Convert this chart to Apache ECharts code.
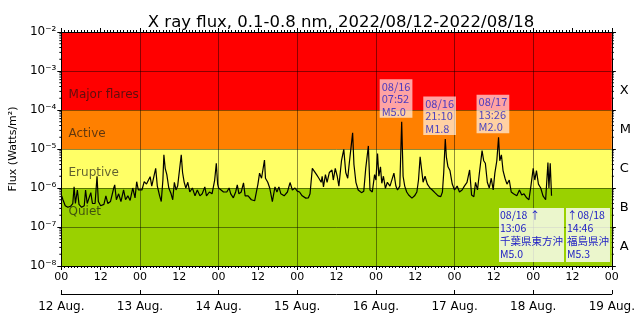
<!DOCTYPE html>
<html>
<head>
<meta charset="utf-8">
<script src="https://cdn.jsdelivr.net/npm/echarts@6.0.0/dist/echarts.min.js"></script>
<style>
  html, body { margin: 0; padding: 0; background: #fff; }
  #chart { width: 638px; height: 332px; }
</style>
</head>
<body>
<div id="chart"></div>
<script>
// GOES X-ray flux (0.1-0.8 nm), hours since 2022-08-12 00:00 UT
const hours = [
  0, 0.5, 1.2, 2.0, 2.8, 3.5, 3.9, 4.3, 4.9, 5.4, 6.2, 7.0, 7.4, 7.9, 8.5, 9.0, 9.5, 10.3, 10.9, 11.3,
  12.0, 13.0, 13.6, 14.2, 15.0, 16.0, 16.3, 16.8, 17.5, 18.2, 19.0, 19.6, 20.3, 21.0, 21.8, 22.5, 23.0, 23.5,
  24.0, 24.6, 25.3, 26.0, 26.5, 27.1, 27.6, 28.2, 28.8, 29.3, 30.0, 30.5, 31.0, 31.3, 31.7, 32.2, 32.8, 33.5,
  34.0, 34.5, 35.0, 35.5, 36.1, 36.6, 37.0, 37.5, 38.0, 38.6, 39.2, 40.0, 40.8, 41.5, 42.3, 43.0, 43.8, 44.3,
  45.2, 46.0, 46.8, 47.3, 47.7,
  48.0, 48.6, 49.5, 50.5, 51.2, 51.7, 52.5, 53.2, 53.7, 54.2, 54.9, 55.6, 56.1, 57.0, 58.0, 59.0, 59.6, 60.0,
  60.5, 61.1, 62.0, 62.3, 63.0, 63.6, 64.4, 65.2, 65.8, 66.4, 67.0, 68.0, 69.0, 69.8, 70.5, 71.3,
  72.0, 72.7, 73.5, 74.6, 75.4, 75.9, 76.6, 77.2, 77.9, 78.6, 79.3, 79.6, 80.0, 80.6, 81.1, 81.8, 82.6, 83.0,
  83.6, 84.2, 84.7, 85.5, 86.2, 86.8, 87.4, 87.9, 88.9, 89.3, 89.9, 90.6, 91.6, 92.3, 92.9, 93.7, 94.2, 94.9, 95.6,
  96.0, 96.5, 96.9, 97.4, 97.8, 98.3, 98.9, 99.5, 100.3, 101.5, 102.1, 102.6, 103.3, 103.87, 104.3, 104.8,
  105.4, 106.0, 107.0, 107.8, 108.5, 109.0, 109.5, 109.9, 110.4, 111.0, 111.7, 112.5, 113.2, 114.0, 115.0,
  115.8, 116.3, 116.7, 117.17, 117.5, 118.0, 118.6, 119.3,
  120.0, 120.8, 121.5, 122.3, 123.0, 123.8, 124.6, 125.2, 125.9, 126.4, 127.0, 127.6, 128.4, 128.9, 129.4,
  130.0, 130.6, 131.2, 131.8, 132.3, 132.9, 133.43, 133.8, 134.3, 134.8, 135.4, 136.0, 136.7, 137.3, 138.0,
  139.0, 139.8, 140.5, 141.2, 142.0, 142.7, 143.3, 144.0, 144.5, 145.0, 145.6, 146.3, 147.0, 147.8, 148.5,
  148.8, 149.2, 149.6
];
const flux = [
  6.6e-7, 5.0e-7, 3.5e-7, 3.2e-7, 3.4e-7, 4.0e-7, 1.07e-6, 4.0e-7, 8.9e-7, 3.8e-7, 3.2e-7, 3.5e-7, 8.9e-7, 4.0e-7, 4.5e-7, 7.6e-7, 4.0e-7, 4.0e-7, 2.0e-6, 4.5e-7,
  3.5e-7, 3.8e-7, 6.3e-7, 4.0e-7, 4.5e-7, 1.0e-6, 1.2e-6, 5.0e-7, 7.1e-7, 4.5e-7, 8.9e-7, 5.0e-7, 6.3e-7, 4.8e-7, 1.0e-6, 5.6e-7, 1.45e-6, 8.9e-7,
  1.0e-6, 8.9e-7, 1.45e-6, 1.26e-6, 1.12e-6, 1.95e-6, 1.12e-6, 1.26e-6, 3.2e-6, 1.12e-6, 6.3e-7, 4.5e-7, 1.6e-6, 7.1e-6, 3.2e-6, 2.2e-6, 1.0e-6, 7.1e-7,
  5.0e-7, 1.4e-6, 8.9e-7, 1.12e-6, 1.26e-6, 7.1e-6, 2.5e-6, 1.4e-6, 1.0e-6, 1.4e-6, 7.9e-7, 1.0e-6, 6.3e-7, 8.9e-7, 6.3e-7, 7.1e-7, 1.07e-6, 6.3e-7,
  7.9e-7, 7.1e-7, 1.6e-6, 4.3e-6, 1.26e-6,
  1.0e-6, 8.9e-7, 7.9e-7, 7.9e-7, 1.0e-6, 7.1e-7, 5.6e-7, 7.9e-7, 1.2e-6, 7.1e-7, 7.9e-7, 1.35e-6, 6.3e-7, 6.3e-7, 5.0e-7, 4.7e-7, 5.0e-7, 1.26e-6,
  2.4e-6, 1.78e-6, 5.2e-6, 1.78e-6, 1.4e-6, 1.0e-6, 4.5e-7, 1.07e-6, 7.9e-7, 1.07e-6, 7.1e-7, 6.3e-7, 7.9e-7, 1.38e-6, 8.9e-7, 1.0e-6,
  8.3e-7, 7.9e-7, 6.3e-7, 5.5e-7, 5.6e-7, 7.1e-7, 3.2e-6, 3.5e-6, 2.2e-6, 1.78e-6, 1.4e-6, 2.0e-6, 1.07e-6, 2.2e-6, 1.4e-6, 2.5e-6, 2.9e-6, 1.6e-6,
  3.2e-6, 2.0e-6, 1.12e-6, 5.0e-6, 9.8e-6, 2.5e-6, 1.78e-6, 4.5e-6, 2.6e-5, 4.0e-6, 1.4e-6, 8.9e-7, 7.6e-7, 8.3e-7, 3.2e-6, 1.2e-5, 8.9e-7, 7.9e-7, 2.2e-6,
  1.6e-6, 7.6e-6, 2.0e-6, 3.5e-6, 1.32e-6, 2.0e-6, 9.8e-7, 1.4e-6, 1.12e-6, 2.4e-6, 1.12e-6, 8.9e-7, 1.12e-6, 5.0e-5, 2.0e-6, 1.12e-6,
  7.9e-7, 6.6e-7, 5.5e-7, 6.3e-7, 7.9e-7, 1.6e-6, 6.3e-6, 3.2e-6, 1.4e-6, 2.0e-6, 1.26e-6, 1.0e-6, 8.9e-7, 7.6e-7, 6.3e-7,
  6.0e-7, 7.9e-7, 2.5e-6, 1.8e-5, 6.3e-6, 3.5e-6, 2.8e-6, 1.26e-6,
  8.9e-7, 1.12e-6, 7.9e-7, 8.9e-7, 1.12e-6, 1.4e-6, 2.9e-6, 6.6e-7, 6.0e-7, 1.4e-6, 8.9e-7, 2.5e-6, 9.1e-6, 5.0e-6, 4.3e-6,
  1.4e-6, 1.0e-6, 1.78e-6, 8.9e-7, 2.4e-6, 5.0e-6, 2.0e-5, 5.0e-6, 7.1e-6, 2.8e-6, 1.78e-6, 1.26e-6, 1.6e-6, 7.9e-7, 7.1e-7,
  6.3e-7, 8.9e-7, 6.6e-7, 7.1e-7, 5.6e-7, 5.0e-7, 1.12e-6, 3.2e-6, 1.6e-6, 2.8e-6, 1.26e-6, 1.0e-6, 6.3e-7, 5.0e-7, 4.5e-6,
  1.0e-6, 4.3e-6, 6.3e-7
];

// Annotated flares (time, peak flux)
const flareHours = [103.87, 117.17, 133.43];
const flarePeaks = [5.0e-5, 1.8e-5, 2.0e-5];
const flareStamps = ['08/16\n07:52', '08/16\n21:10', '08/17\n13:26'];

// Earthquake notes
const quakeStamps = ['08/18 \u2191\n13:06', '\u219108/18\n14:46'];
const quakePlaces = ['千葉県東方沖', '福島県沖'];
const quakeMags = ['M5.0', 'M5.3'];

// Activity bands
const bandNames = ['Major flares', 'Active', 'Eruptive', 'Quiet'];
const bandLower = [1e-4, 1e-5, 1e-6, 1e-8];
const bandUpper = [1e-2, 1e-4, 1e-5, 1e-6];
const bandLabelAt = [2.5e-4, 2.5e-5, 2.5e-6, 2.5e-7];

// Axis texts
const yTickLabels = ['10⁻⁸', '10⁻⁷', '10⁻⁶', '10⁻⁵', '10⁻⁴', '10⁻³', '10⁻²'];
const classLetters = ['A', 'B', 'C', 'M', 'X'];
const hourLabels = ['00', '12'];
const dayLabels = ['12 Aug.', '13 Aug.', '14 Aug.', '15 Aug.', '16 Aug.', '17 Aug.', '18 Aug.', '19 Aug.'];

const bandColors = ['#ff0000', '#ff8000', '#ffff66', '#9ad100'];
const GRID_LINE = 'rgba(0,0,0,0.45)';
const FONT = 'DejaVu Sans';
const NOTE_FONT = 'Noto Sans CJK JP';
const NOTE_COLOR = '#2121c4';
const T_MAX = 168;

// minor ticks at 2..9 x 10^n for the log axis
const minorLogTicks = [];
for (let e = -8; e < -2; e++) {
  for (let m = 2; m <= 9; m++) minorLogTicks.push([0, m * Math.pow(10, e)]);
}

const chart = echarts.init(document.getElementById('chart'), null, { renderer: 'canvas' });

const option = {
  animation: false,
  backgroundColor: '#ffffff',
  title: {
    text: 'X ray flux, 0.1-0.8 nm, 2022/08/12-2022/08/18',
    left: 336, top: 9, textAlign: 'center',
    textStyle: { fontFamily: FONT, fontSize: 16.5, fontWeight: 'normal', color: '#000' }
  },
  grid: { left: 59, right: 24, top: 32, bottom: 66 },
  xAxis: [
    { // hours
      type: 'value', position: 'bottom', min: 0, max: T_MAX, interval: 12, z: 1,
      axisLine: { show: true, onZero: false, lineStyle: { color: '#000', width: 1 } },
      axisTick: { show: true, length: 4, lineStyle: { color: '#000' } },
      minorTick: { show: true, splitNumber: 12, length: 2, lineStyle: { color: '#000' } },
      axisLabel: { margin: 6, fontFamily: FONT, fontSize: 11, color: '#000',
        formatter: v => hourLabels[(v % 24 === 0) ? 0 : 1] },
      splitLine: { show: false }
    },
    { // day labels, and the daily grid lines
      type: 'value', position: 'bottom', offset: 28, min: 0, max: T_MAX, interval: 24, z: 1,
      axisLine: { show: true, onZero: false, lineStyle: { color: '#000', width: 1 } },
      axisTick: { show: true, length: 4, inside: true, lineStyle: { color: '#000' } },
      axisLabel: { margin: 7, fontFamily: FONT, fontSize: 12, color: '#000',
        formatter: v => dayLabels[Math.round(v / 24)] },
      splitLine: { show: true, lineStyle: { color: GRID_LINE, width: 1 } }
    },
    { // top frame
      type: 'value', position: 'top', min: 0, max: T_MAX, interval: 12, z: 1,
      axisLine: { show: true, onZero: false, lineStyle: { color: '#000', width: 1 } },
      axisTick: { show: true, length: 4, lineStyle: { color: '#000' } },
      minorTick: { show: true, splitNumber: 12, length: 2, lineStyle: { color: '#000' } },
      axisLabel: { show: false },
      splitLine: { show: false }
    }
  ],
  yAxis: [
    {
      type: 'log', logBase: 10, min: 1e-8, max: 1e-2, splitNumber: 6, position: 'left', z: 1,
      name: 'Flux (Watts/m²)', nameLocation: 'middle', nameGap: 40,
      nameTextStyle: { fontFamily: FONT, fontSize: 11, color: '#000' },
      axisLine: { show: true, onZero: false, lineStyle: { color: '#000', width: 1 } },
      axisTick: { show: true, length: 4, lineStyle: { color: '#000' } },
      axisLabel: { margin: 5, fontFamily: FONT, fontSize: 12, color: '#000',
        formatter: v => yTickLabels[Math.round(Math.log10(v)) + 8] },
      splitLine: { show: true, lineStyle: { color: GRID_LINE, width: 1 } }
    },
    {
      type: 'log', logBase: 10, min: 1e-8, max: 1e-2, splitNumber: 6, position: 'right', z: 1,
      axisLine: { show: true, onZero: false, lineStyle: { color: '#000', width: 1 } },
      axisTick: { show: true, length: 4, lineStyle: { color: '#000' } },
      axisLabel: { show: false },
      splitLine: { show: false }
    },
    { // class letters centred in each decade
      type: 'value', min: -8, max: -2, interval: 0.5, position: 'right',
      axisLine: { show: false }, axisTick: { show: false }, splitLine: { show: false },
      axisLabel: { margin: 8, fontFamily: FONT, fontSize: 13, color: '#000',
        formatter: v => {
          const k = v + 8 - 0.5;
          return (Math.abs(k - Math.round(k)) < 1e-6 && k >= 0 && k < classLetters.length) ? classLetters[Math.round(k)] : '';
        } }
    }
  ],
  series: [
    { // coloured activity bands
      type: 'line', z: 0, xAxisIndex: 0, yAxisIndex: 0, data: [], silent: true,
      markArea: {
        silent: true, z: 0,
        data: bandNames.map((n, i) => [
          { yAxis: bandLower[i], itemStyle: { color: bandColors[i], opacity: 1 } },
          { yAxis: bandUpper[i] }
        ])
      }
    },
    { // band names
      type: 'scatter', z: 2, xAxisIndex: 0, yAxisIndex: 0, symbolSize: 0, silent: true,
      data: bandNames.map((n, i) => ({ value: [2.2, bandLabelAt[i]], name: n })),
      label: { show: true, position: 'right', distance: 0, formatter: p => p.name,
        fontFamily: FONT, fontSize: 12, color: 'rgba(20,20,20,0.85)' }
    },
    { // flux trace
      type: 'line', z: 3, xAxisIndex: 0, yAxisIndex: 0, showSymbol: false, symbol: 'none',
      lineStyle: { color: '#000', width: 1.2 },
      data: hours.map((h, i) => [h, flux[i]])
    },
    { // flare notes
      type: 'scatter', z: 4, xAxisIndex: 0, yAxisIndex: 0, symbolSize: 0, silent: true,
      data: flareHours.map((h, i) => [h, flarePeaks[i]]),
      label: {
        show: true, position: 'top', distance: 4, offset: [-22, 0], align: 'left', verticalAlign: 'bottom',
        formatter: p => flareStamps[p.dataIndex] + '\nM' + (flarePeaks[p.dataIndex] / 1e-5).toFixed(1),
        fontFamily: NOTE_FONT, fontSize: 11, lineHeight: 12.5, color: NOTE_COLOR,
        backgroundColor: 'rgba(255,255,255,0.8)', padding: [1, 2, 0, 2]
      }
    },
    { // minor log ticks on both sides
      type: 'custom', z: 5, xAxisIndex: 0, yAxisIndex: 0, silent: true, clip: false,
      data: minorLogTicks,
      renderItem: (params, api) => {
        const v = api.value(1);
        const l = api.coord([0, v]);
        const r = api.coord([T_MAX, v]);
        return {
          type: 'group',
          children: [
            { type: 'line', shape: { x1: l[0] - 2, y1: l[1], x2: l[0], y2: l[1] }, style: { stroke: '#000', lineWidth: 1 } },
            { type: 'line', shape: { x1: r[0], y1: r[1], x2: r[0] + 2, y2: r[1] }, style: { stroke: '#000', lineWidth: 1 } }
          ]
        };
      }
    }
  ],
  graphic: quakeStamps.map((s, i) => ({
    type: 'text', z: 10,
    left: i === 0 ? 499 : 566, top: 208,
    style: {
      text: s + '\n' + quakePlaces[i] + '\n' + quakeMags[i],
      font: '10.5px "' + NOTE_FONT + '"', lineHeight: 13, fill: NOTE_COLOR,
      backgroundColor: 'rgba(255,255,255,0.8)', padding: [1, 1, 1, 1]
    }
  }))
};

chart.setOption(option);
</script>
</body>
</html>
